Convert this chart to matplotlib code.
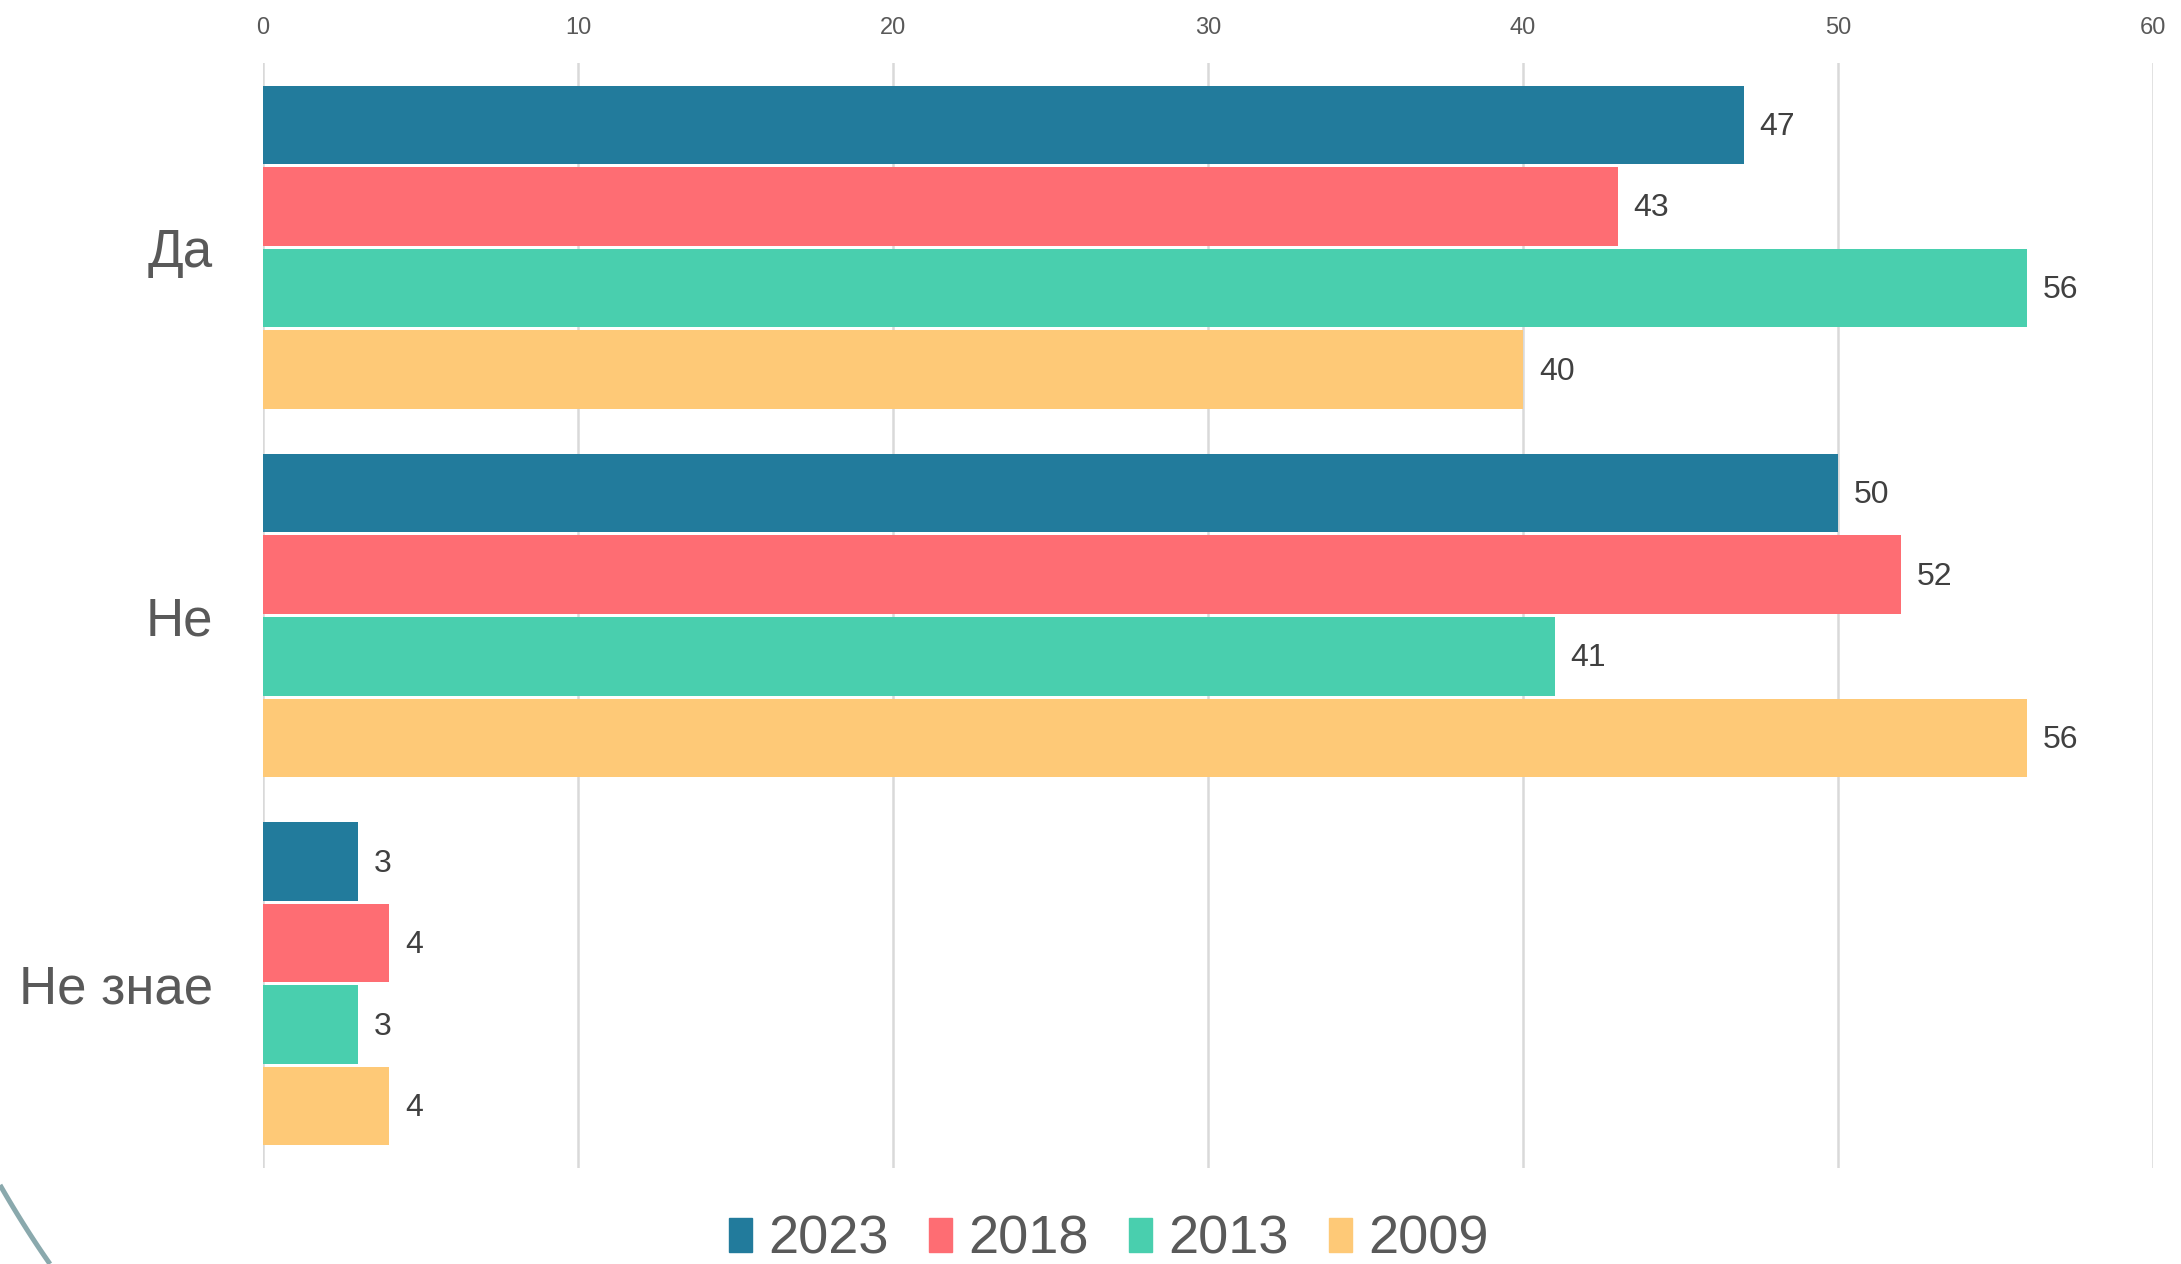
import matplotlib
matplotlib.use("Agg")
import matplotlib.pyplot as plt
import numpy as np
from matplotlib.lines import Line2D

categories = ["Да", "Не", "Не знае"]
series_names = ["2023", "2018", "2013", "2009"]
values_2023 = [47, 50, 3]
values_2018 = [43, 52, 4]
values_2013 = [56, 41, 3]
values_2009 = [40, 56, 4]
series_values = [values_2023, values_2018, values_2013, values_2009]
colors = ["#227B9C", "#FE6D73", "#49CFAE", "#FEC977"]
x_ticks = [0, 10, 20, 30, 40, 50, 60]

W, H, DPI = 2181, 1264, 100
fig = plt.figure(figsize=(W / DPI, H / DPI), dpi=DPI)
fig.patch.set_facecolor("white")

left, right = 263 / W, 2153 / W
top, bottom = 1 - 63 / H, 1 - 1168 / H
ax = fig.add_axes([left, bottom, right - left, top - bottom])

regular = ["Liberation Sans", "DejaVu Sans"]

pitch = 0.2215
bar_h = 0.213
y = np.arange(len(categories))
for i, (name, vals, col) in enumerate(zip(series_names, series_values, colors)):
    pos = y + (i - 1.5) * pitch
    ax.barh(pos, vals, height=bar_h, color=col, label=name, zorder=3,
            edgecolor="none")
    for p, v in zip(pos, vals):
        ax.annotate(str(v), xy=(v, p), xytext=(11.5, -1.5), textcoords="offset points",
                    ha="left", va="center", fontsize=23, color="#404040",
                    family=regular)

ax.set_xlim(0, 60)
ax.set_ylim(2.5, -0.5)
ax.set_xticks(x_ticks)
ax.set_xticklabels([str(t) for t in x_ticks], family=regular, fontsize=17, color="#595959")
ax.xaxis.tick_top()
ax.tick_params(axis="x", length=0, pad=17)
ax.set_yticks(y)
ax.set_yticklabels(categories, family=regular, fontsize=38, color="#595959")
ax.tick_params(axis="y", length=0, pad=36)
ax.grid(axis="x", color="#D9D9D9", linewidth=1.8, zorder=0)
ax.set_axisbelow(True)
for s in ax.spines.values():
    s.set_visible(False)

handles = [plt.Rectangle((0, 0), 1, 1, color=c) for c in colors]
leg = fig.legend(handles, series_names, loc="center",
                 bbox_to_anchor=(1109 / W, 1 - 1240 / H), ncol=4, frameon=False,
                 prop={"family": regular, "size": 39}, handlelength=0.42,
                 handleheight=0.6, handletextpad=0.3, columnspacing=0.75,
                 borderpad=0, labelcolor="#595959")

# decorative arc in lower-left corner
t = np.linspace(0, 1, 50)
arc_x = 0 + 50 * t
arc_y = 1185 + 79 * (1.1 * t - 0.1 * t ** 2)
fig.add_artist(Line2D(arc_x / W, 1 - arc_y / H, transform=fig.transFigure,
                      color="#8AA9AD", linewidth=3.6, solid_capstyle="butt"))

fig.savefig("out.png", dpi=DPI, facecolor="white")
